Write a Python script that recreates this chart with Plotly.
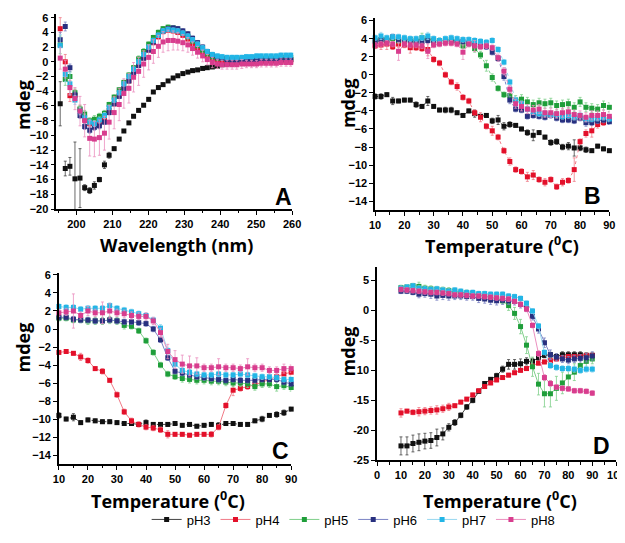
import plotly.graph_objects as go

W, H = 625, 543

series_names = ["pH3", "pH4", "pH5", "pH6", "pH7", "pH8"]
marker_colors = ["#111111", "#e3102a", "#1f9e3a", "#28307f", "#22b5e6", "#d83d8e"]
line_colors = ["#444444", "#f07a86", "#7fcf8a", "#7b83c4", "#98d8f0", "#eb8fbf"]

# ---------------- Panel A : wavelength scan ----------------
a_wavelength = [195.5, 196.9, 198.2, 199.6, 201.0, 202.3, 203.7, 205.0, 206.4, 207.8,
                209.1, 210.5, 211.9, 213.2, 214.6, 215.9, 217.3, 218.7, 220.1, 221.4,
                222.8, 224.1, 225.5, 226.9, 228.2, 229.6, 231.0, 232.3, 233.7, 235.1,
                236.4, 237.8, 239.2, 240.5, 241.9, 243.3, 244.6, 246.0, 247.3, 248.7,
                250.1, 251.4, 252.8, 254.2, 255.6, 256.9, 258.3, 259.6]
a_ph3 = [-5.7, -14.5, -14.2, -15.9, -15.8, -17.1, -17.5, -16.8, -16.0, -14.0,
         -12.7, -11.8, -10.5, -9.4, -8.3, -7.4, -6.6, -5.9, -5.1, -4.1,
         -3.5, -3.1, -2.6, -2.2, -1.9, -1.6, -1.4, -1.2, -1.1, -0.9,
         -0.8, -0.7, -0.6, -0.4, -0.3, -0.2, -0.1, 0.0, 0.0, 0.1,
         0.1, 0.2, 0.2, 0.2, 0.2, 0.3, 0.3, 0.3]
a_ph4 = [4.5, 0.0, -4.6, -4.6, -6.5, -7.8, -8.4, -8.5, -8.4, -7.9,
         -6.6, -5.7, -4.6, -3.6, -2.6, -1.6, -0.5, 0.5, 1.6, 2.6,
         3.4, 4.1, 4.3, 4.2, 4.0, 3.6, 3.1, 2.5, 1.9, 1.3,
         0.8, 0.4, 0.2, 0.1, 0.0, -0.1, -0.1, -0.1, 0.0, 0.0,
         0.0, 0.0, 0.1, 0.1, 0.1, 0.1, 0.1, 0.1]
a_ph5 = [2.3, -2.4, -2.0, -4.2, -6.4, -7.1, -8.0, -7.8, -7.4, -7.0,
         -5.8, -4.8, -3.8, -2.8, -1.8, -0.8, 0.4, 1.4, 2.4, 3.3,
         4.0, 4.5, 4.7, 4.6, 4.3, 3.9, 3.4, 2.8, 2.2, 1.6,
         1.1, 0.7, 0.5, 0.5, 0.4, 0.4, 0.4, 0.4, 0.4, 0.5,
         0.5, 0.5, 0.5, 0.5, 0.5, 0.6, 0.6, 0.6]
a_ph6 = [3.0, 4.8, -0.8, -4.5, -7.3, -8.8, -9.3, -8.9, -8.7, -8.2,
         -6.9, -5.7, -4.7, -3.6, -2.6, -1.6, -0.5, 0.5, 1.6, 2.7,
         3.6, 4.2, 4.5, 4.6, 4.5, 4.2, 3.8, 3.2, 2.6, 2.0,
         1.4, 0.9, 0.6, 0.5, 0.3, 0.2, 0.2, 0.2, 0.2, 0.2,
         0.3, 0.3, 0.3, 0.3, 0.3, 0.3, 0.3, 0.3]
a_ph7 = [2.2, -1.7, -3.0, -5.2, -6.7, -7.6, -8.2, -8.4, -7.9, -7.3,
         -6.2, -5.2, -4.2, -3.0, -2.0, -1.0, 0.0, 1.0, 2.0, 2.9,
         3.6, 4.2, 4.4, 4.3, 4.2, 3.9, 3.5, 3.0, 2.4, 1.9,
         1.4, 1.0, 0.8, 0.7, 0.6, 0.6, 0.6, 0.6, 0.7, 0.7,
         0.8, 0.8, 0.8, 0.8, 0.8, 0.9, 0.9, 0.9]
a_ph8 = [0.5, -1.0, -3.5, -5.0, -6.7, -8.0, -10.4, -10.5, -10.3, -9.7,
         -8.2, -6.9, -5.8, -4.3, -3.6, -2.1, -1.3, -0.3, 0.6, 1.4,
         2.1, 2.7, 2.9, 2.9, 2.8, 2.6, 2.3, 1.8, 1.3, 0.8,
         0.3, -0.1, -0.3, -0.4, -0.4, -0.4, -0.4, -0.3, -0.3, -0.3,
         -0.3, -0.2, -0.2, -0.2, -0.2, -0.1, -0.1, -0.1]
a_ph3_err = [3.0, 1.0, 1.2, 5.0, 4.0, 0.4, 0.4, 0.5, 0.3, 0.5,
             0.4, 0.2, 0.2, 0.2, 0.2, 0.2, 0.2, 0.2, 0.2, 0.2,
             0.2, 0.2, 0.2, 0.2, 0.2, 0.2, 0.2, 0.2, 0.2, 0.2,
             0.2, 0.2, 0.2, 0.2, 0.2, 0.2, 0.2, 0.2, 0.2, 0.2,
             0.2, 0.2, 0.2, 0.2, 0.2, 0.2, 0.2, 0.2]
a_ph4_err = [1.5, 1.0, 0.8, 0.8, 0.6, 0.5, 0.4, 0.4, 0.4, 0.4,
             0.3, 0.3, 0.3, 0.3, 0.3, 0.3, 0.3, 0.3, 0.3, 0.3,
             0.3, 0.3, 0.3, 0.3, 0.3, 0.3, 0.3, 0.3, 0.3, 0.3,
             0.3, 0.3, 0.3, 0.3, 0.3, 0.3, 0.3, 0.3, 0.3, 0.3,
             0.3, 0.3, 0.3, 0.3, 0.3, 0.3, 0.3, 0.3]
a_ph5_err = [1.2, 0.8, 0.6, 0.5, 0.5, 0.5, 0.4, 0.5, 0.4, 0.4,
             0.3, 0.3, 0.3, 0.3, 0.3, 0.3, 0.4, 0.4, 0.3, 0.3,
             0.3, 0.3, 0.3, 0.3, 0.3, 0.3, 0.3, 0.3, 0.3, 0.3,
             0.3, 0.3, 0.3, 0.3, 0.3, 0.3, 0.3, 0.3, 0.3, 0.3,
             0.3, 0.3, 0.3, 0.3, 0.3, 0.3, 0.3, 0.3]
a_ph6_err = [1.0, 0.6, 0.5, 0.4, 0.4, 0.4, 0.4, 0.4, 0.4, 0.3,
             0.3, 0.3, 0.3, 0.3, 0.3, 0.3, 0.3, 0.3, 0.3, 0.3,
             0.3, 0.3, 0.3, 0.3, 0.3, 0.3, 0.3, 0.3, 0.3, 0.3,
             0.3, 0.3, 0.3, 0.3, 0.3, 0.3, 0.3, 0.3, 0.3, 0.3,
             0.3, 0.3, 0.3, 0.3, 0.3, 0.3, 0.3, 0.3]
a_ph7_err = [1.5, 1.0, 1.5, 0.6, 0.5, 0.5, 0.4, 0.4, 0.4, 0.4,
             0.3, 0.3, 0.3, 0.3, 0.3, 0.3, 0.3, 0.3, 0.3, 0.3,
             0.3, 0.3, 0.3, 0.3, 0.3, 0.3, 0.3, 0.3, 0.3, 0.3,
             0.3, 0.3, 0.3, 0.3, 0.3, 0.3, 0.3, 0.3, 0.3, 0.3,
             0.3, 0.3, 0.3, 0.3, 0.3, 0.3, 0.3, 0.3]
a_ph8_err = [1.5, 1.2, 1.0, 1.5, 2.0, 2.2, 2.4, 2.4, 2.4, 2.3,
             2.3, 2.2, 2.2, 2.0, 2.0, 2.0, 1.9, 1.8, 1.7, 1.6,
             1.5, 1.4, 1.4, 1.3, 1.2, 1.1, 1.0, 0.9, 0.8, 0.8,
             0.7, 0.7, 0.6, 0.6, 0.6, 0.6, 0.6, 0.6, 0.5, 0.5,
             0.5, 0.5, 0.5, 0.5, 0.5, 0.5, 0.5, 0.5]

# ---------------- Panel B : melting curve ----------------
b_temp = [10, 12, 14, 16, 18, 20, 22, 24, 26, 28, 30, 32, 34, 36, 38, 40, 42, 44, 46, 48,
          50, 52, 54, 56, 58, 60, 62, 64, 66, 68, 70, 72, 74, 76, 78, 80, 82, 84, 86, 88, 90]
b_ph3 = [-2.4, -2.4, -2.2, -2.9, -2.9, -2.8, -2.8, -3.3, -3.5, -2.9,
         -3.5, -3.9, -3.9, -3.9, -4.2, -4.5, -4.0, -4.3, -4.6, -4.5,
         -5.1, -5.0, -5.7, -5.5, -5.6, -6.0, -6.4, -6.7, -6.4, -6.9,
         -7.5, -7.4, -8.0, -7.9, -8.1, -8.1, -8.3, -8.4, -7.9, -8.2, -8.4]
b_ph4 = [3.2, 3.3, 3.4, 3.1, 3.4, 3.3, 3.0, 3.0, 2.9, 2.8,
         1.7, 1.3, 0.0, -0.8, -1.3, -2.5, -2.9, -4.2, -4.7, -5.7,
         -6.2, -6.9, -8.4, -9.6, -10.5, -10.7, -11.3, -11.1, -11.6, -11.9,
         -11.6, -12.4, -11.9, -11.7, -10.5, -7.4, -6.5, -6.2, -5.5, -5.3, -5.0]
b_ph5 = [3.8, 3.9, 3.9, 4.0, 3.8, 3.9, 3.9, 3.8, 4.1, 4.0,
         3.8, 3.8, 3.8, 3.9, 3.7, 3.2, 3.5, 2.9, 2.2, 1.0,
         -0.3, -1.5, -2.2, -2.3, -2.8, -2.7, -3.0, -3.3, -3.1, -3.2,
         -3.1, -3.4, -3.3, -3.2, -3.6, -3.0, -3.6, -3.7, -3.8, -3.4, -3.6]
b_ph6 = [3.7, 3.9, 3.8, 4.2, 3.9, 3.8, 3.8, 3.6, 3.7, 3.8,
         3.5, 3.6, 3.7, 3.7, 3.6, 3.7, 3.5, 3.3, 3.2, 3.1,
         2.5, 1.8, -0.2, -2.8, -3.8, -3.9, -4.6, -4.5, -4.6, -4.7,
         -4.5, -4.8, -5.0, -5.0, -5.1, -4.8, -5.3, -5.3, -5.1, -5.0, -5.2]
b_ph7 = [4.1, 4.3, 4.1, 4.2, 4.2, 4.1, 4.0, 4.0, 4.1, 4.3,
         4.0, 3.8, 4.0, 4.1, 4.0, 3.9, 3.9, 3.8, 3.7, 3.6,
         3.8, 2.8, 1.4, -0.8, -2.8, -3.2, -3.8, -4.1, -4.3, -4.3,
         -4.4, -4.4, -4.6, -4.5, -4.7, -4.5, -4.9, -4.9, -4.8, -4.7, -4.9]
b_ph8 = [3.3, 3.4, 3.5, 3.4, 2.6, 3.4, 3.3, 3.3, 3.2, 2.6,
         3.3, 3.4, 3.5, 3.5, 3.4, 2.5, 3.4, 3.2, 3.1, 3.2,
         3.0, 1.9, 0.4, -1.6, -3.2, -3.5, -3.8, -3.9, -3.8, -4.2,
         -4.2, -4.3, -4.2, -4.1, -4.4, -4.5, -4.7, -4.5, -4.5, -4.4, -4.6]
b_ph3_err = [0.3, 0.3, 0.2, 0.4, 0.2, 0.2, 0.2, 0.3, 0.2, 0.5,
             0.2, 0.2, 0.3, 0.3, 0.2, 0.2, 0.2, 0.4, 0.2, 0.2,
             0.3, 0.5, 0.4, 0.3, 0.2, 0.2, 0.3, 0.6, 0.2, 0.2,
             0.3, 0.3, 0.3, 0.4, 0.9, 0.3, 0.3, 0.2, 0.2, 0.2, 0.2]
b_ph4_err = [0.3, 0.5, 0.6, 0.3, 0.4, 0.3, 0.6, 0.3, 0.3, 0.7,
             0.3, 0.3, 0.3, 0.3, 0.4, 0.3, 0.3, 0.3, 0.5, 0.3,
             0.5, 0.3, 0.3, 0.4, 0.3, 0.3, 0.5, 0.5, 0.3, 0.4,
             0.3, 0.3, 0.4, 0.3, 1.3, 0.3, 0.4, 0.7, 0.4, 0.3, 0.3]
b_ph5_err = [0.3, 0.3, 0.3, 0.3, 0.3, 0.3, 0.3, 0.3, 0.5, 0.3,
             0.3, 0.3, 0.3, 0.3, 0.3, 0.3, 0.4, 0.4, 0.4, 0.6,
             0.4, 0.3, 0.3, 0.5, 0.5, 0.5, 0.5, 0.5, 0.5, 0.5,
             0.5, 0.5, 0.5, 0.5, 0.5, 0.5, 0.5, 0.5, 0.5, 0.5, 0.5]
b_ph6_err = [0.3, 0.3, 0.3, 0.3, 0.3, 0.3, 0.3, 0.3, 0.3, 0.3,
             0.3, 0.3, 0.3, 0.3, 0.3, 0.3, 0.3, 0.3, 0.3, 0.3,
             0.3, 0.3, 0.4, 0.4, 0.3, 0.3, 0.3, 0.3, 0.3, 0.3,
             0.3, 0.3, 0.3, 0.3, 0.3, 0.3, 0.4, 0.3, 0.3, 0.3, 0.3]
b_ph7_err = [0.3, 0.4, 0.3, 0.3, 0.3, 0.3, 0.3, 0.3, 0.3, 0.4,
             0.3, 0.3, 0.3, 0.3, 0.3, 0.3, 0.3, 0.3, 0.3, 0.3,
             0.3, 0.3, 0.3, 0.3, 0.3, 0.3, 0.3, 0.3, 0.3, 0.3,
             0.3, 0.3, 0.3, 0.3, 0.3, 0.3, 0.3, 0.3, 0.3, 0.3, 0.3]
b_ph8_err = [0.3, 0.3, 0.3, 0.3, 1.0, 0.3, 0.3, 0.3, 0.3, 0.8,
             0.3, 0.3, 0.3, 0.3, 0.3, 0.8, 0.3, 0.6, 0.3, 0.3,
             0.3, 0.4, 0.4, 0.4, 0.5, 0.5, 0.5, 0.5, 0.5, 0.5,
             0.5, 0.5, 0.5, 0.5, 0.5, 0.5, 0.5, 0.5, 0.5, 0.5, 0.5]

# ---------------- Panel C ----------------
c_temp = [10, 12.5, 15, 17.5, 20, 22.5, 25, 27.5, 30, 32.5, 35, 37.5, 40, 42.5, 45, 47.5,
          50, 52.5, 55, 57.5, 60, 62.5, 65, 67.5, 70, 72.5, 75, 77.5, 80, 82.5, 85, 87.5, 90]
c_ph3 = [-9.6, -10.0, -9.8, -10.4, -10.1, -10.2, -10.3, -10.3, -10.4, -10.5,
         -10.5, -10.6, -10.4, -10.6, -10.6, -10.6, -10.5, -10.7, -10.6, -10.8,
         -10.7, -10.6, -10.7, -10.5, -10.5, -10.6, -10.6, -10.2, -10.0, -9.6,
         -9.5, -9.3, -8.9]
c_ph4 = [-2.6, -2.5, -2.7, -3.1, -3.5, -4.4, -4.7, -5.7, -7.3, -9.2,
         -10.2, -10.6, -10.9, -11.0, -11.2, -11.7, -11.7, -11.7, -11.8, -11.7,
         -11.7, -11.7, -10.9, -8.5, -6.8, -6.6, -6.4, -6.2, -5.9, -5.6,
         -5.3, -5.0, -4.8]
c_ph5 = [1.2, 1.2, 1.0, 1.0, 0.9, 0.9, 0.9, 1.0, 0.9, 0.4,
         0.3, -0.2, -1.3, -2.6, -4.0, -5.0, -5.3, -5.5, -5.6, -5.7,
         -5.7, -5.8, -5.8, -5.9, -6.0, -6.0, -6.1, -6.4, -6.1, -6.1,
         -6.4, -6.3, -6.5]
c_ph6 = [1.3, 1.3, 1.1, 1.0, 1.0, 0.9, 0.9, 1.0, 0.9, 0.8,
         0.8, 0.7, 0.6, 0.0, -1.2, -3.2, -4.7, -4.9, -5.1, -5.3,
         -5.4, -5.5, -5.6, -5.7, -5.6, -5.7, -5.7, -5.7, -5.6, -5.6,
         -5.6, -5.9, -6.1]
c_ph7 = [2.5, 2.4, 2.4, 2.2, 2.3, 2.3, 2.3, 2.6, 2.3, 2.1,
         1.9, 1.7, 1.5, 1.0, 0.1, -2.4, -3.9, -4.6, -4.8, -5.0,
         -5.1, -5.1, -5.0, -5.1, -5.1, -5.0, -5.1, -5.2, -5.3, -5.3,
         -5.4, -5.6, -5.6]
c_ph8 = [1.8, 1.9, 2.0, 1.5, 2.0, 1.8, 1.8, 2.0, 1.8, 1.7,
         1.5, 1.4, 1.4, 0.9, -0.4, -2.5, -3.4, -3.9, -4.1, -4.1,
         -4.3, -4.3, -4.2, -4.3, -4.3, -4.4, -4.2, -4.3, -4.3, -4.6,
         -4.6, -4.4, -4.4]
c_ph3_err = [0.3, 0.2, 0.4, 0.2, 0.2, 0.2, 0.2, 0.2, 0.2, 0.2,
             0.2, 0.2, 0.3, 0.2, 0.2, 0.2, 0.2, 0.2, 0.2, 0.2,
             0.2, 0.2, 0.3, 0.2, 0.2, 0.2, 0.2, 0.2, 0.3, 0.2,
             0.3, 0.3, 0.2]
c_ph4_err = [0.2, 0.2, 0.2, 0.4, 0.3, 0.2, 0.3, 0.2, 0.3, 0.3,
             0.3, 0.3, 0.3, 0.3, 0.3, 0.4, 0.2, 0.2, 0.2, 0.2,
             0.2, 0.3, 0.3, 0.3, 0.6, 0.3, 0.3, 0.3, 0.3, 0.3,
             0.3, 0.3, 0.3]
c_ph5_err = [0.3, 0.3, 0.3, 0.3, 0.4, 0.4, 0.4, 0.4, 0.4, 0.4,
             0.3, 0.3, 0.3, 0.3, 0.3, 0.3, 0.3, 0.4, 0.4, 0.4,
             0.4, 0.4, 0.4, 0.4, 0.4, 0.4, 0.4, 0.4, 0.4, 0.4,
             0.5, 0.4, 0.4]
c_ph6_err = [0.3, 0.3, 0.3, 0.3, 0.3, 0.3, 0.3, 0.3, 0.3, 0.3,
             0.3, 0.3, 0.3, 0.3, 0.3, 0.3, 0.3, 0.3, 0.3, 0.3,
             0.3, 0.3, 0.3, 0.3, 0.3, 0.3, 0.3, 0.3, 0.3, 0.3,
             0.3, 0.3, 0.3]
c_ph7_err = [0.3, 0.3, 0.3, 0.3, 0.3, 0.3, 0.3, 0.3, 0.3, 0.3,
             0.3, 0.3, 0.3, 0.3, 0.4, 0.3, 0.3, 0.3, 0.3, 0.3,
             0.3, 0.3, 0.3, 0.3, 0.3, 0.3, 0.3, 0.3, 0.3, 0.3,
             0.3, 0.3, 0.3]
c_ph8_err = [0.4, 0.4, 1.9, 0.4, 0.5, 0.4, 1.2, 0.8, 0.4, 0.4,
             0.4, 0.4, 0.4, 0.4, 0.5, 0.8, 1.0, 1.0, 1.1, 0.9,
             0.4, 0.4, 0.9, 0.4, 0.4, 0.4, 0.9, 0.4, 0.4, 0.4,
             0.4, 0.5, 0.4]

# ---------------- Panel D ----------------
d_temp = [10, 12.5, 15, 17.5, 20, 22.5, 25, 27.5, 30, 32.5, 35, 37.5, 40, 42.5, 45, 47.5,
          50, 52.5, 55, 57.5, 60, 62.5, 65, 67.5, 70, 72.5, 75, 77.5, 80, 82.5, 85, 87.5, 90]
d_ph3 = [-22.6, -22.6, -22.2, -22.0, -21.8, -21.7, -21.2, -20.6, -19.5, -18.7,
         -17.5, -16.1, -15.0, -13.5, -12.2, -11.5, -10.9, -9.8, -9.0, -9.0,
         -8.9, -8.5, -8.5, -7.9, -7.5, -7.4, -7.7, -7.4, -7.4, -7.4,
         -7.4, -7.5, -7.5]
d_ph4 = [-17.1, -16.8, -17.0, -16.9, -16.8, -16.7, -16.6, -16.4, -16.1, -15.9,
         -15.3, -14.8, -14.1, -13.4, -12.7, -12.1, -11.6, -11.2, -10.8, -10.4,
         -10.0, -9.7, -9.3, -8.8, -8.6, -8.4, -8.1, -7.9, -7.7, -7.7,
         -7.7, -7.5, -7.5]
d_ph5 = [3.8, 3.9, 4.1, 4.0, 3.7, 3.6, 3.5, 3.4, 3.3, 3.2,
         3.0, 2.9, 2.8, 2.6, 2.4, 2.2, 2.0, 1.6, 0.8, -0.5,
         -2.7, -5.8, -9.4, -12.3, -13.9, -13.9, -13.0, -12.1, -11.1, -10.3,
         -9.2, -8.5, -8.1]
d_ph6 = [3.2, 3.2, 3.0, 2.7, 2.8, 2.7, 2.4, 2.5, 2.4, 2.4,
         2.4, 2.3, 2.3, 2.0, 1.9, 1.7, 1.6, 1.7, 1.6, 1.5,
         1.0, 0.4, -1.0, -3.1, -5.4, -7.4, -7.8, -8.1, -8.3, -8.1,
         -8.0, -7.9, -7.6]
d_ph7 = [3.7, 3.9, 4.1, 3.7, 3.6, 3.5, 3.6, 3.4, 3.2, 3.4,
         3.2, 3.0, 3.0, 2.8, 2.8, 2.7, 2.7, 2.7, 2.4, 2.3,
         2.0, 1.2, -0.1, -2.6, -7.0, -9.2, -9.5, -9.7, -9.7, -9.8,
         -10.0, -9.8, -9.8]
d_ph8 = [3.5, 3.4, 3.3, 3.2, 3.1, 3.0, 3.0, 2.9, 2.8, 2.6,
         2.6, 2.5, 2.4, 2.4, 2.3, 2.2, 2.1, 2.0, 1.9, 1.5,
         1.0, 0.2, -2.5, -7.2, -11.2, -12.2, -12.8, -13.0, -13.1, -13.4,
         -13.4, -13.5, -13.8]
d_ph3_err = [1.5, 1.5, 1.4, 1.4, 1.3, 1.3, 1.4, 1.0, 0.6, 0.5,
             0.4, 0.4, 0.4, 0.3, 0.3, 0.3, 0.4, 0.5, 0.8, 0.8,
             0.8, 0.6, 0.5, 0.4, 0.4, 0.4, 0.4, 0.5, 0.5, 0.5,
             0.5, 0.4, 0.4]
d_ph4_err = [0.7, 0.3, 0.4, 0.7, 0.6, 0.6, 0.7, 0.6, 0.6, 0.3,
             0.3, 0.3, 0.3, 0.3, 0.3, 0.3, 0.3, 0.3, 0.3, 0.3,
             0.3, 0.3, 0.3, 0.3, 0.3, 0.3, 0.3, 0.3, 0.3, 0.3,
             0.3, 0.3, 0.3]
d_ph5_err = [0.4, 0.4, 0.4, 0.7, 0.5, 0.5, 0.5, 0.5, 0.5, 0.5,
             0.5, 0.5, 0.5, 0.5, 0.5, 0.5, 0.5, 0.5, 0.8, 1.0,
             1.2, 1.4, 1.6, 1.8, 2.2, 2.2, 2.0, 1.8, 1.6, 1.4,
             1.2, 1.0, 0.8]
d_ph6_err = [0.4, 0.4, 0.4, 0.6, 0.6, 0.7, 0.7, 0.7, 0.7, 0.6,
             0.6, 0.6, 0.6, 0.7, 0.7, 0.7, 0.7, 0.7, 0.6, 0.6,
             0.6, 0.6, 0.6, 0.7, 0.8, 0.8, 0.6, 0.6, 0.6, 0.6,
             0.6, 0.7, 0.7]
d_ph7_err = [0.4, 0.4, 0.4, 0.4, 0.4, 0.4, 0.4, 0.4, 0.4, 0.4,
             0.4, 0.4, 0.4, 0.4, 0.4, 0.4, 0.4, 0.4, 0.4, 0.4,
             0.4, 0.4, 0.4, 0.4, 0.4, 0.5, 0.5, 0.5, 0.5, 0.5,
             0.5, 0.5, 0.5]
d_ph8_err = [0.4, 0.4, 0.4, 0.4, 0.4, 0.4, 0.4, 0.4, 0.4, 0.4,
             0.4, 0.4, 0.4, 0.4, 0.4, 0.4, 0.4, 0.4, 0.4, 0.4,
             0.4, 0.4, 0.4, 0.5, 0.5, 0.5, 0.4, 0.4, 0.4, 0.4,
             0.4, 0.4, 0.4]

d_ytickvals = [-25, -20, -15, -10, -5, 0, 5]
d_yticktext = ["-25", "-20", "-15", "10", "-5", "0", "5"]

panels = [
    dict(name="A", x=a_wavelength, xaxis="x", yaxis="y",
         ys=[a_ph3, a_ph4, a_ph5, a_ph6, a_ph7, a_ph8],
         errs=[a_ph3_err, a_ph4_err, a_ph5_err, a_ph6_err, a_ph7_err, a_ph8_err],
         mode="markers", dash="solid", legend=False),
    dict(name="B", x=b_temp, xaxis="x2", yaxis="y2",
         ys=[b_ph3, b_ph4, b_ph5, b_ph6, b_ph7, b_ph8],
         errs=[b_ph3_err, b_ph4_err, b_ph5_err, b_ph6_err, b_ph7_err, b_ph8_err],
         mode="lines+markers", dash="dot", legend=False),
    dict(name="C", x=c_temp, xaxis="x3", yaxis="y3",
         ys=[c_ph3, c_ph4, c_ph5, c_ph6, c_ph7, c_ph8],
         errs=[c_ph3_err, c_ph4_err, c_ph5_err, c_ph6_err, c_ph7_err, c_ph8_err],
         mode="lines+markers", dash="solid", legend=False),
    dict(name="D", x=d_temp, xaxis="x4", yaxis="y4",
         ys=[d_ph3, d_ph4, d_ph5, d_ph6, d_ph7, d_ph8],
         errs=[d_ph3_err, d_ph4_err, d_ph5_err, d_ph6_err, d_ph7_err, d_ph8_err],
         mode="lines+markers", dash="solid", legend=True),
]

fig = go.Figure()
for p in panels:
    for i, name in enumerate(series_names):
        dash = p["dash"]
        if p["name"] == "C" and i == 0:
            dash = "dot"
        fig.add_trace(go.Scatter(
            x=p["x"], y=p["ys"][i], name=name, legendgroup=name,
            showlegend=p["legend"], mode=p["mode"],
            xaxis=p["xaxis"], yaxis=p["yaxis"], cliponaxis=False,
            line=dict(color=line_colors[i], width=1, dash=dash),
            marker=dict(symbol="square", size=5, color=marker_colors[i],
                        line=dict(width=0)),
            error_y=dict(type="data", array=p["errs"][i], visible=True,
                         color=line_colors[i], thickness=0.8, width=1.5),
        ))


def px_x(px):
    return px / W


def px_y(py):
    return 1 - py / H


tickfont = dict(family="Liberation Sans, Arial, sans-serif", size=11, color="black", weight="bold")


def axis(domain, rng, **kw):
    d = dict(domain=domain, range=rng, showline=True, linecolor="black", linewidth=1.5,
             ticks="outside", ticklen=4, tickwidth=1.2, tickcolor="black",
             showgrid=False, zeroline=False, tickfont=tickfont, fixedrange=True)
    d.update(kw)
    return d


minor_x = dict(ticks="outside", ticklen=2.5, tickwidth=1, tickcolor="black", dtick=5, showgrid=False)

fig.update_layout(
    xaxis=axis([px_x(43.3), px_x(285)], [194.4, 260], anchor="y", tick0=200, dtick=10, minor=minor_x),
    yaxis=axis([px_y(200.7), px_y(2.0)], [-20, 6.5], anchor="x", tick0=-20, dtick=2),
    xaxis2=axis([px_x(370), px_x(610)], [10, 90], anchor="y2", tick0=10, dtick=10, minor=minor_x),
    yaxis2=axis([px_y(202), px_y(6.0)], [-15, 6.3], anchor="x2", tick0=-14, dtick=2),
    xaxis3=axis([px_x(46), px_x(284)], [10, 90], anchor="y3", tick0=10, dtick=10, minor=minor_x),
    yaxis3=axis([px_y(460.5), px_y(266.1)], [-15, 6.2], anchor="x3", tick0=-14, dtick=2),
    xaxis4=axis([px_x(372), px_x(617)], [0, 100], anchor="y4", tick0=0, dtick=10, minor=minor_x),
    yaxis4=axis([px_y(456.7), px_y(260)], [-25, 7.2], anchor="x4",
                tickmode="array", tickvals=d_ytickvals, ticktext=d_yticktext),
)

title_font = dict(family="Open Sans, DejaVu Sans, sans-serif", size=18, color="black", weight="bold")
letter_font = dict(family="Liberation Sans, Arial, sans-serif", size=23, color="black", weight="bold")

annos = [
    ("mdeg", 9, 95, -90, title_font),
    ("Wavelength (nm)", 166, 237, 0, title_font),
    ("mdeg", 342, 93, -90, title_font),
    ("Temperature (<sup>0</sup>C)", 500, 237, 0, title_font),
    ("mdeg", 9, 342, -90, title_font),
    ("Temperature (<sup>0</sup>C)", 158, 497, 0, title_font),
    ("mdeg", 342, 346, -90, title_font),
    ("Temperature (<sup>0</sup>C)", 498, 497, 0, title_font),
    ("A", 276, 188, 0, letter_font),
    ("B", 593, 187, 0, letter_font),
    ("C", 273, 447, 0, letter_font),
    ("D", 602, 442, 0, letter_font),
]
for text, x, y, ang, f in annos:
    fig.add_annotation(text=text, x=px_x(x), y=px_y(y), xref="paper", yref="paper",
                       showarrow=False, textangle=ang, font=f,
                       xanchor="center", yanchor="middle")

fig.update_layout(
    width=W, height=H,
    margin=dict(l=0, r=0, t=0, b=0),
    paper_bgcolor="white", plot_bgcolor="white",
    showlegend=True,
    legend=dict(orientation="h", x=px_x(348), xanchor="center", y=px_y(517), yanchor="middle",
                font=dict(family="Liberation Sans, Arial, sans-serif", size=13, color="black"),
                itemwidth=30, tracegroupgap=0, bgcolor="rgba(0,0,0,0)"),
)

fig.write_html("out.html")
